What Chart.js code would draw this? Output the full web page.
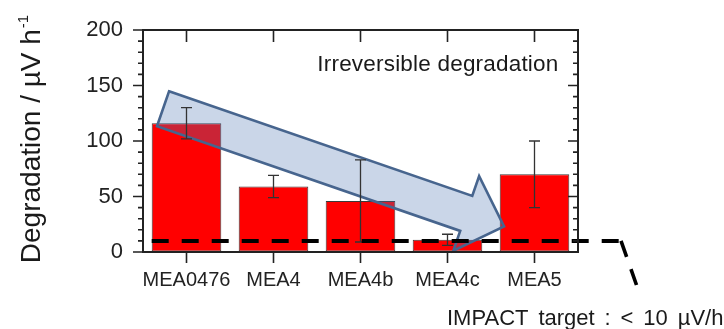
<!DOCTYPE html>
<html>
<head>
<meta charset="utf-8">
<script src="https://cdn.jsdelivr.net/npm/chart.js@4.4.1/dist/chart.umd.min.js"></script>
<style>
  html, body { margin: 0; padding: 0; background: #ffffff; }
  #wrap { width: 724px; height: 329px; position: relative; }
</style>
</head>
<body>
<div id="wrap"><canvas id="chart" width="724" height="329"></canvas></div>
<script>
// ---- data ----
const categories = ['MEA0476', 'MEA4', 'MEA4b', 'MEA4c', 'MEA5'];
const degradation = [116, 59, 46, 11, 70];      // µV/h
const degradationErr = [14, 10, 37, 5, 30];      // ± µV/h
const yTickValues = [0, 50, 100, 150, 200];
const targetValue = 10;                          // IMPACT target, µV/h
const yTitleMain = 'Degradation / µV h';
const yTitleSup = '-1';
const noteText = 'Irreversible degradation';
const targetText = 'IMPACT target : < 10 µV/h';
// trend arrow, in (category index, value) units
const trendFrom = [-0.27, 129];
const trendTo = [3.65, 23];

const FONT = '"Liberation Sans", Arial, Helvetica, sans-serif';
const INK = '#222222';

// frame, ticks, error bars, trend arrow, target line and labels
const decorations = {
  id: 'decorations',
  afterDatasetsDraw(chart) {
    const ctx = chart.ctx;
    const xs = chart.scales.x, ys = chart.scales.y;
    const area = chart.chartArea;
    const meta = chart.getDatasetMeta(0);

    // trend arrow
    const p0 = [xs.getPixelForValue(trendFrom[0]), ys.getPixelForValue(trendFrom[1])];
    const p1 = [xs.getPixelForValue(trendTo[0]), ys.getPixelForValue(trendTo[1])];
    const dx = p1[0] - p0[0], dy = p1[1] - p0[1];
    const len = Math.hypot(dx, dy);
    const u = [dx / len, dy / len];
    const n = [-u[1], u[0]];
    const sw = 18.5, hw = 39.5, hl = 40;
    const base = [p1[0] - u[0] * hl, p1[1] - u[1] * hl];
    const pt = (p, k) => [p[0] + n[0] * k, p[1] + n[1] * k];
    const poly = [pt(p0, -sw), pt(base, -sw), pt(base, -hw), p1, pt(base, hw), pt(base, sw), pt(p0, sw)];
    ctx.save();
    ctx.beginPath();
    poly.forEach((p, i) => i ? ctx.lineTo(p[0], p[1]) : ctx.moveTo(p[0], p[1]));
    ctx.closePath();
    ctx.fillStyle = 'rgba(80,120,180,0.30)';
    ctx.fill();
    ctx.lineWidth = 2.6;
    ctx.lineJoin = 'miter';
    ctx.strokeStyle = '#47658e';
    ctx.stroke();
    ctx.restore();

    // error bars
    ctx.save();
    ctx.strokeStyle = '#333333';
    ctx.lineWidth = 1.3;
    meta.data.forEach((bar, i) => {
      const x = bar.x;
      const yHi = ys.getPixelForValue(degradation[i] + degradationErr[i]);
      const yLo = ys.getPixelForValue(degradation[i] - degradationErr[i]);
      ctx.beginPath();
      ctx.moveTo(x, yHi); ctx.lineTo(x, yLo);
      ctx.moveTo(x - 5.5, yHi); ctx.lineTo(x + 5.5, yHi);
      ctx.moveTo(x - 5.5, yLo); ctx.lineTo(x + 5.5, yLo);
      ctx.stroke();
    });
    ctx.restore();

    // target line
    const yT = ys.getPixelForValue(targetValue);
    const first = meta.data[0];
    const xStart = first.x - first.width / 2;
    const xEnd = area.right + 41.5;
    ctx.save();
    ctx.strokeStyle = '#000000';
    ctx.lineWidth = 4;
    ctx.setLineDash([17, 13]);
    ctx.beginPath();
    ctx.moveTo(xStart, yT); ctx.lineTo(xEnd, yT);
    ctx.stroke();
    ctx.lineWidth = 3.6;
    ctx.beginPath();
    ctx.moveTo(area.right + 43, yT);
    ctx.lineTo(area.right + 58.5, 285);
    ctx.stroke();
    ctx.restore();

    // plot frame
    ctx.save();
    ctx.strokeStyle = INK;
    ctx.lineWidth = 2;
    ctx.strokeRect(area.left, area.top, area.right - area.left, area.bottom - area.top);
    ctx.lineWidth = 1.6;
    ctx.beginPath();
    for (let v = 0; v <= 200; v += 10) {
      const y = ys.getPixelForValue(v);
      const major = v % 50 === 0;
      const l = major ? 10 : 5;
      ctx.moveTo(area.left - l, y); ctx.lineTo(area.left, y);
      ctx.moveTo(area.right, y); ctx.lineTo(area.right - l, y);
    }
    meta.data.forEach(bar => {
      ctx.moveTo(bar.x, area.top); ctx.lineTo(bar.x, area.top + 12);
      ctx.moveTo(bar.x, area.bottom); ctx.lineTo(bar.x, area.bottom + 11);
    });
    ctx.stroke();
    ctx.restore();

    // note inside the plot
    ctx.save();
    ctx.fillStyle = '#1a1a1a';
    ctx.font = '22.5px ' + FONT;
    ctx.textAlign = 'right';
    ctx.textBaseline = 'alphabetic';
    ctx.letterSpacing = '0.2px';
    ctx.fillText(noteText, area.right - 19.5, area.top + 40.7);
    // target caption
    ctx.font = '22px ' + FONT;
    ctx.textAlign = 'left';
    ctx.letterSpacing = '0px';
    ctx.wordSpacing = '3.8px';
    ctx.fillText(targetText, 447, 324.5);
    ctx.restore();

    // y axis title with superscript
    ctx.save();
    const cy = (area.top + area.bottom) / 2 - 1.5;
    ctx.translate(40, cy);
    ctx.rotate(-Math.PI / 2);
    ctx.fillStyle = '#1a1a1a';
    ctx.textBaseline = 'alphabetic';
    ctx.textAlign = 'left';
    ctx.font = '28px ' + FONT;
    const w1 = ctx.measureText(yTitleMain).width;
    ctx.font = '15px ' + FONT;
    const w2 = ctx.measureText(yTitleSup).width;
    const start = -(w1 + w2) / 2;
    ctx.font = '28px ' + FONT;
    ctx.fillText(yTitleMain, start, 0);
    ctx.font = '15px ' + FONT;
    ctx.fillText(yTitleSup, start + w1 + 1, -12);
    ctx.restore();
  }
};

new Chart(document.getElementById('chart'), {
  type: 'bar',
  data: {
    labels: categories,
    datasets: [{
      data: degradation,
      backgroundColor: '#ff0000',
      borderColor: '#3a3a3a',
      borderWidth: 1,
      borderSkipped: false,
      barPercentage: 0.8,
      categoryPercentage: 1.0
    }]
  },
  options: {
    responsive: false,
    animation: false,
    devicePixelRatio: 1,
    layout: { padding: { top: 30, right: 146, bottom: 0, left: 0 } },
    plugins: { legend: { display: false }, tooltip: { enabled: false }, title: { display: false } },
    scales: {
      x: {
        offset: true,
        grid: { display: true, drawOnChartArea: false, color: 'rgba(0,0,0,0)', tickLength: 11 },
        border: { display: false },
        ticks: { color: INK, font: { family: FONT, size: 20 }, padding: 5, maxRotation: 0, autoSkip: false },
        afterFit(scale) { scale.height = 77; }
      },
      y: {
        min: 0,
        max: 200,
        afterBuildTicks(scale) { scale.ticks = yTickValues.map(v => ({ value: v })); },
        grid: { display: true, drawOnChartArea: false, color: 'rgba(0,0,0,0)', tickLength: 10 },
        border: { display: false },
        ticks: { color: INK, font: { family: FONT, size: 22 }, padding: 10 },
        afterFit(scale) { scale.width = 143; }
      }
    }
  },
  plugins: [decorations]
});
</script>
</body>
</html>
